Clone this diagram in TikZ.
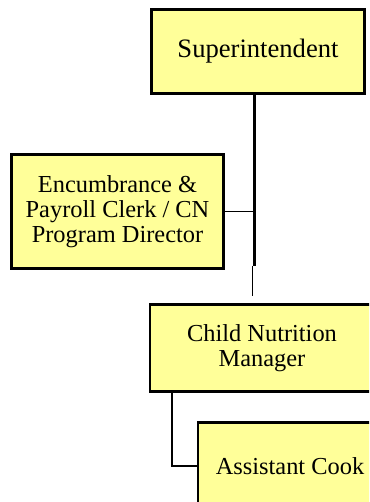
\documentclass[tikz,border=0pt]{standalone}
\usepackage{fontspec}
\setmainfont{Liberation Serif}
\usepackage{xcolor}
\usetikzlibrary{positioning, calc}
\definecolor{boxyellow}{RGB}{255, 255, 153}

\tikzset{
  posbox/.style={draw=black, line width=1.3pt, fill=boxyellow, align=center,
    inner sep=0pt, font=\fontsize{12.2}{12.5}\selectfont},
  trunk/.style={line width=1.5pt},
  twig/.style={line width=0.5pt}
}

\begin{document}
\begin{tikzpicture}[x=0.5pt, y=-0.5pt]

% frame of the picture
\useasboundingbox (0,0) rectangle (369,502);
\clip (0,0) rectangle (369,502);

% positions
\node[posbox, minimum width=106.5pt, minimum height=42pt, font=\fontsize{13.3}{14}\selectfont]
  (sup) at (258,51.5) {Superintendent};
\node[posbox, minimum width=106pt, minimum height=57pt] (enc) at (117.5,211.5)
  {Encumbrance \&\\Payroll Clerk / CN\\Program Director};
\node[posbox, minimum width=112pt, minimum height=43.5pt] (cnm) at (262,348)
  {Child Nutrition\\Manager};
\node[posbox, minimum width=92pt, minimum height=43.5pt] (cook) at (290,466) {Assistant Cook};

% lines
\coordinate (top) at ($(sup.south)+(-4,0)$);
\coordinate (bend) at ($(top)+(0,171)$);
\draw[trunk] (top) -- (bend);
\draw[twig, shorten >=3.5pt] ($(bend)+(-2,0)$) -- ($(bend |- cnm.north)+(-2,0)$);
\draw[twig] (enc.east) -- (enc.east -| bend);
\draw[line width=0.9pt] ([xshift=11.5pt]cnm.south west) |- (cook.west);

\end{tikzpicture}
\end{document}
